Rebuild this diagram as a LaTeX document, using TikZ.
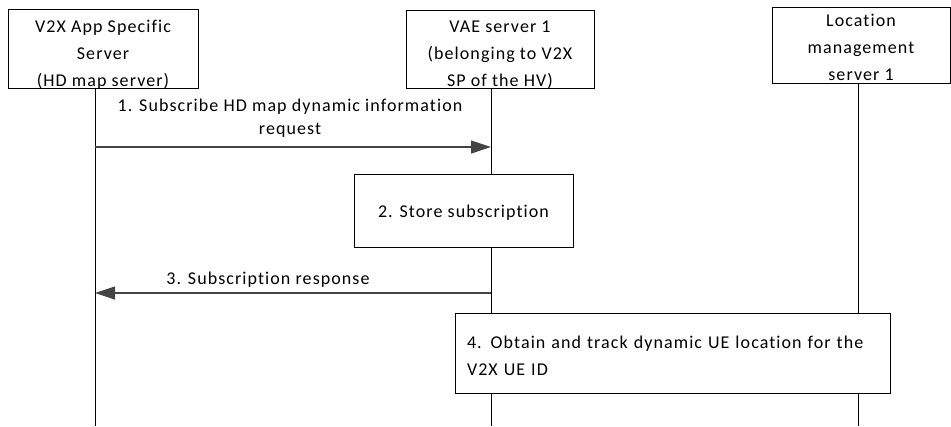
\documentclass[tikz,border=0pt]{standalone}
\usepackage{fontspec}
\setmainfont{Carlito}[LetterSpace=6, Ligatures={NoCommon}]
\usetikzlibrary{arrows.meta}
\definecolor{arrgray}{HTML}{444444}
\newcommand\tdn[1]{\rule{0pt}{#1}}
\begin{document}
\begin{tikzpicture}[x=1pt,y=-1pt,
  font=\fontsize{18}{27}\selectfont,
  box/.style={draw=black, line width=1pt, align=center, inner sep=0pt},
  stepbox/.style={box, fill=white},
  life/.style={draw=black, line width=1pt},
  msg/.style={draw=arrgray, line width=1.2pt, -{Triangle[length=20pt,width=13pt]}},
  lbl/.style={inner sep=0pt, align=center, font=\fontsize{18}{23}\selectfont}]
\useasboundingbox (0,0) rectangle (951,426);
% header boxes
\node[box, minimum width=190pt, minimum height=78pt] (as) at (103,49) {\tdn{23pt}V2X App Specific\\Server\\(HD map server)};
\node[box, minimum width=188pt, minimum height=75pt] (vae) at (500,49.5) {\tdn{22pt}VAE server 1\\(belonging to V2X\\SP of the HV)};
\node[box, minimum width=178pt, minimum height=76pt] (lms) at (861,45) {\tdn{17pt}Location\\management\\server 1};
% lifelines
\coordinate (l1) at (95,426);
\coordinate (l2) at (491,426);
\coordinate (l3) at (858,426);
\draw[life] (as.south -| l1) -- (l1);
\draw[life] (vae.south -| l2) -- (l2);
\draw[life] (lms.south -| l3) -- (l3);
% message 1
\coordinate (m1s) at (95,147);
\coordinate (m1e) at (491,147);
\draw[msg] (m1s) -- (m1e);
\node[lbl] (t1) at (290,118) {1. Subscribe HD map dynamic information\\request};
% step 2
\node[stepbox, minimum width=219pt, minimum height=73pt] (st) at (463.5,210.5) {\tdn{17.5pt}2. Store subscription};
% message 3
\coordinate (m3s) at (491,293);
\coordinate (m3e) at (95,293);
\draw[msg] (m3s) -- (m3e);
\node[lbl] (t3) at (268,277) {\tdn{17.5pt}3. Subscription response};
% step 4
\node[stepbox, minimum width=435pt, minimum height=80pt, text width=411pt, align=left] (ob) at (672.5,353) {\tdn{17.5pt}4. Obtain and track dynamic UE location for the\\V2X UE ID};
\end{tikzpicture}
\end{document}
